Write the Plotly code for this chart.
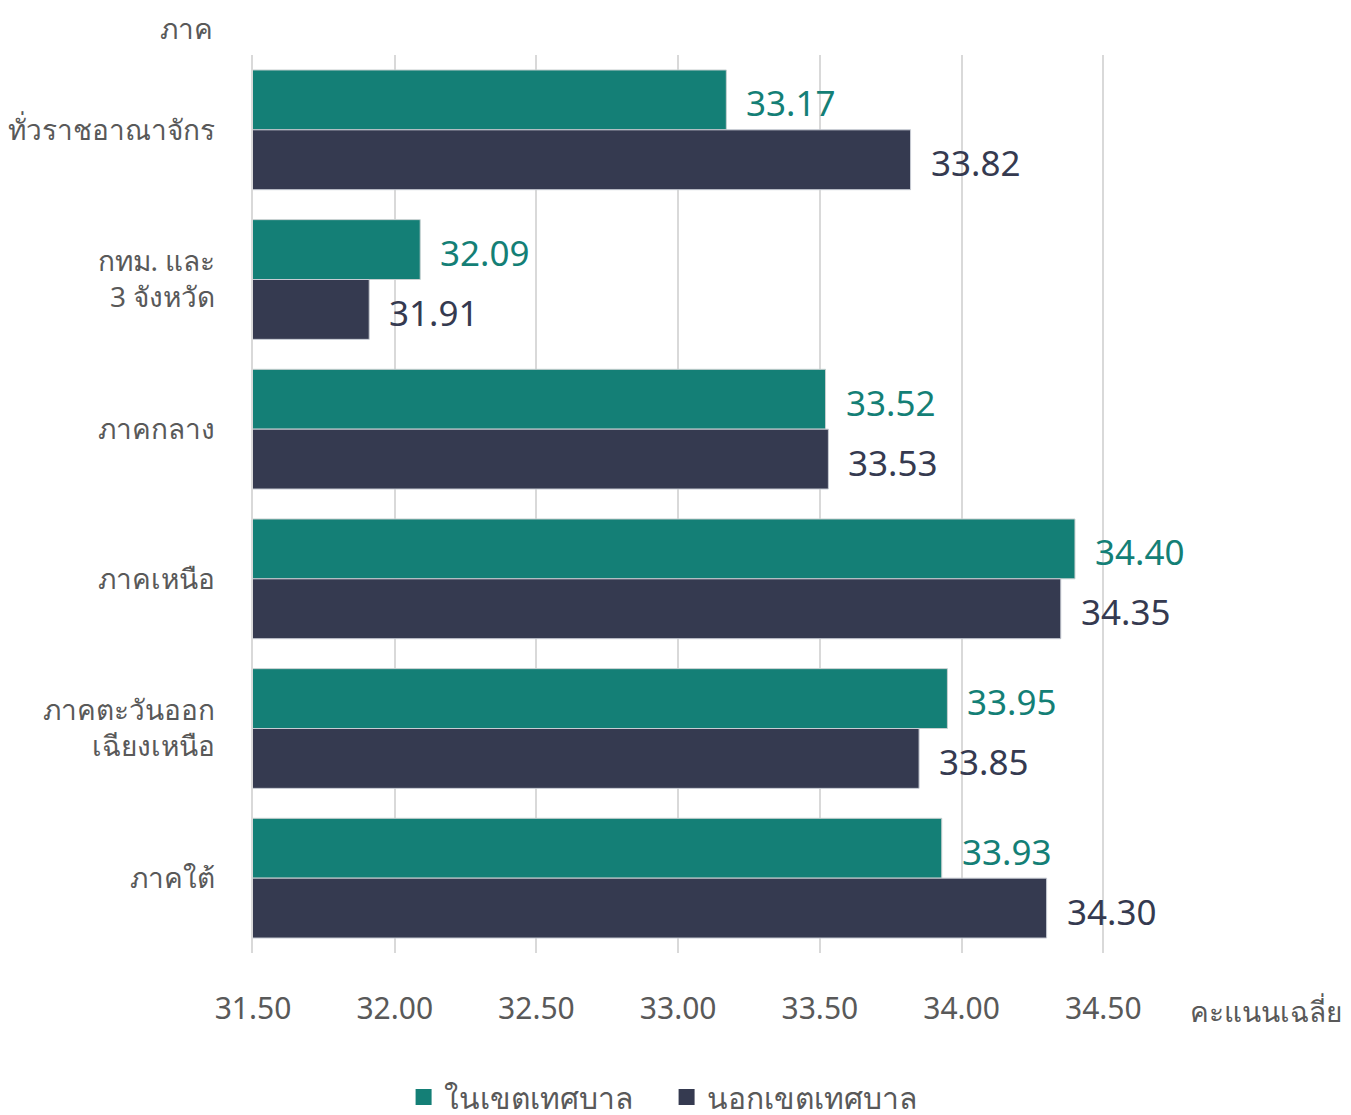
import plotly.graph_objects as go

categories = ["ทั่วราชอาณาจักร", "กทม. และ<br>3 จังหวัด", "ภาคกลาง", "ภาคเหนือ",
              "ภาคตะวันออก<br>เฉียงเหนือ", "ภาคใต้"]
inside = [33.17, 32.09, 33.52, 34.40, 33.95, 33.93]
outside = [33.82, 31.91, 33.53, 34.35, 33.85, 34.30]
series_names = ["ในเขตเทศบาล", "นอกเขตเทศบาล"]
tick_vals = [31.5, 32.0, 32.5, 33.0, 33.5, 34.0, 34.5]
tick_text = ["31.50", "32.00", "32.50", "33.00", "33.50", "34.00", "34.50"]

TEAL = "#147F76"
NAVY = "#353A50"
GRAY = "#595959"
FONT = "Noto Sans, sans-serif"

fig = go.Figure()
fig.add_trace(go.Bar(y=categories, x=inside, name=series_names[0], orientation="h",
                     marker=dict(color=TEAL, line=dict(color="#c8d0d0", width=1)),
                     showlegend=False))
fig.add_trace(go.Bar(y=categories, x=outside, name=series_names[1], orientation="h",
                     marker=dict(color=NAVY, line=dict(color="#c8ccd4", width=1)),
                     showlegend=False))
# legend entries with square swatches
for name, col in zip(series_names, [TEAL, NAVY]):
    fig.add_trace(go.Scatter(x=[None], y=[None], mode="markers", name=name,
                             marker=dict(symbol="square", size=22, color=col)))

annotations = []
for i, c in enumerate(categories):
    annotations.append(dict(x=inside[i], y=c, text=f"{inside[i]:.2f}", xanchor="left",
                            yanchor="middle", xshift=18, yshift=27, showarrow=False,
                            font=dict(size=35, color=TEAL, family=FONT)))
    annotations.append(dict(x=outside[i], y=c, text=f"{outside[i]:.2f}", xanchor="left",
                            yanchor="middle", xshift=18, yshift=-33, showarrow=False,
                            font=dict(size=35, color=NAVY, family=FONT)))

annotations.append(dict(xref="paper", yref="paper", x=-0.042, y=1.0, yshift=27,
                        xanchor="right", yanchor="middle", text="ภาค", showarrow=False,
                        font=dict(size=28, color=GRAY, family=FONT)))
annotations.append(dict(xref="paper", yref="paper", x=1.031, y=0, yshift=-58,
                        xanchor="left", yanchor="middle", text="คะแนนเฉลี่ย", showarrow=False,
                        font=dict(size=28, color=GRAY, family=FONT)))

fig.update_layout(
    width=1351, height=1115,
    margin=dict(l=245, r=199, t=47, b=170),
    paper_bgcolor="white", plot_bgcolor="white",
    barmode="group", bargap=0.2, bargroupgap=0,
    font=dict(family=FONT, color=GRAY, size=26),
    annotations=annotations,
    legend=dict(orientation="h", x=0.456, xanchor="center", yref="container",
                y=0.0, yanchor="bottom",
                font=dict(size=30, color=GRAY, family=FONT), traceorder="normal",
                itemwidth=30, entrywidth=218),
    xaxis=dict(range=[31.5, 34.7], tickvals=tick_vals, ticktext=tick_text,
               showgrid=True, gridcolor="#d9d9d9", gridwidth=2, zeroline=False,
               showline=False, ticks="", ticklabelstandoff=35, automargin=False,
               tickfont=dict(size=30, color=GRAY, family=FONT)),
    yaxis=dict(autorange="reversed", showgrid=False, showline=True, linecolor="#d9d9d9",
               linewidth=2, ticks="", ticklabelstandoff=30, automargin=False,
               tickfont=dict(size=28, color=GRAY, family=FONT)),
)

fig.write_html("out.html")
